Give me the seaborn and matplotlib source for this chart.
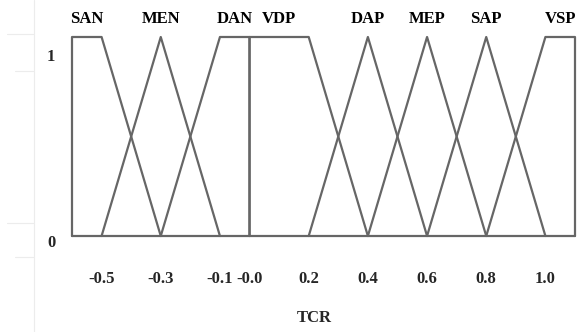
import numpy as np
import seaborn as sns
import matplotlib.pyplot as plt
from matplotlib.lines import Line2D

sns.set_style("white")
plt.rcParams['font.family'] = ['Liberation Serif', 'DejaVu Serif']
plt.rcParams['font.weight'] = 'bold'

# Membership functions (x in axis units, y = membership degree)
sets = ['SAN', 'MEN', 'DAN', 'VDP', 'DAP', 'MEP', 'SAP', 'VSP']
set_x = [
    [0, 0, 0.5, 1.5],
    [0.5, 1.5, 2.5],
    [1.5, 2.5, 3, 3],
    [3, 3, 4, 5],
    [4, 5, 6],
    [5, 6, 7],
    [6, 7, 8],
    [7, 8, 8.5, 8.5],
]
set_y = [
    [0, 1, 1, 0],
    [0, 1, 0],
    [0, 1, 1, 0],
    [0, 1, 1, 0],
    [0, 1, 0],
    [0, 1, 0],
    [0, 1, 0],
    [0, 1, 1, 0],
]
tick_pos = [0.5, 1.5, 2.5, 3, 4, 5, 6, 7, 8]
tick_labels = ['-0.5', '-0.3', '-0.1', '-0.0', '0.2', '0.4', '0.6', '0.8', '1.0']
x_range = [0, 8.5]

W, H = 577, 332
fig = plt.figure(figsize=(W / 100, H / 100), dpi=100)
ax = fig.add_axes([72 / W, (H - 236) / H, (575 - 72) / W, (236 - 37) / H])

line_col = '#666666'
fs = 12
for name, xs, ys in zip(sets, set_x, set_y):
    sns.lineplot(x=xs, y=ys, ax=ax, color=line_col, lw=1.6, sort=False,
                 estimator=None, clip_on=False)
    xs_a, ys_a = np.array(xs), np.array(ys)
    lx = xs_a[ys_a == 1].mean()
    ax.text(lx, 1.07, name, ha='center', va='baseline', fontsize=fs,
            fontweight='bold', color='black')

# baseline
ax.plot(x_range, [0, 0], color=line_col, lw=1.6, clip_on=False)

ax.set_xlim(*x_range)
ax.set_ylim(0, 1)
for s in ax.spines.values():
    s.set_visible(False)
ax.set_xticks(tick_pos, tick_labels)
ax.set_yticks([])
ax.tick_params(axis='x', length=0, pad=25, labelsize=fs)
for lab in ax.get_xticklabels():
    lab.set_fontweight('bold')

ax.text(-0.35, 0.9, '1', ha='center', va='center', fontsize=fs, fontweight='bold')
ax.text(-0.35, -0.035, '0', ha='center', va='center', fontsize=fs, fontweight='bold')
ax.text(4.1, -0.41, 'TCR', ha='center', va='center', fontsize=fs, fontweight='bold')

# faint leftover table lines at the left margin
faint = '#ececec'
fig.add_artist(Line2D([34 / W, 34 / W], [0, 1], color=faint, lw=0.8))
for yy, x0 in [(34, 7), (71, 15), (223, 7), (257, 15)]:
    fig.add_artist(Line2D([x0 / W, 34 / W], [(H - yy) / H] * 2, color=faint, lw=0.8))

fig.savefig('out.png', dpi=100)
